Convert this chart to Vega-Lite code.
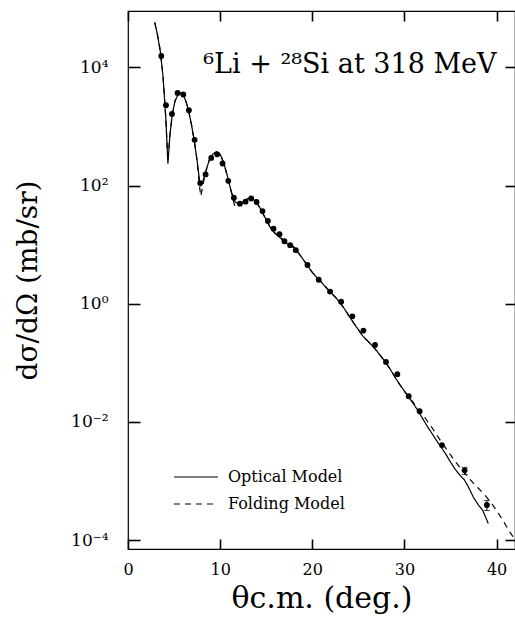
{
  "$schema": "https://vega.github.io/schema/vega-lite/v6.json",
  "width": 387,
  "height": 538,
  "autosize": {"type": "none"},
  "padding": {"left": 128, "top": 11, "right": 0, "bottom": 68},
  "background": "white",
  "config": {
    "view": {"stroke": "black", "strokeWidth": 1.2},
    "font": "DejaVu Serif",
    "axis": {
      "domain": false,
      "labelFlush": false,
      "labelColor": "black",
      "labelFont": "DejaVu Serif",
      "labelFontSize": 16,
      "titleFont": "DejaVu Serif",
      "titleFontWeight": "normal",
      "titleColor": "black"
    }
  },
  "datasets": {
    "points": [
      {"theta": 3.61, "sigma": 15600}, {"theta": 4.12, "sigma": 2290}, {"theta": 4.77, "sigma": 1630},
      {"theta": 5.38, "sigma": 3690}, {"theta": 6.0, "sigma": 3470}, {"theta": 6.61, "sigma": 1875},
      {"theta": 7.23, "sigma": 593}, {"theta": 7.84, "sigma": 110}, {"theta": 8.42, "sigma": 154},
      {"theta": 9.03, "sigma": 293}, {"theta": 9.68, "sigma": 337}, {"theta": 10.26, "sigma": 236},
      {"theta": 10.88, "sigma": 120}, {"theta": 11.49, "sigma": 62.1}, {"theta": 12.14, "sigma": 49.3},
      {"theta": 12.76, "sigma": 53.3}, {"theta": 13.37, "sigma": 60.3}, {"theta": 13.95, "sigma": 52.5},
      {"theta": 14.6, "sigma": 36.9}, {"theta": 15.18, "sigma": 25.1}, {"theta": 15.79, "sigma": 18.6},
      {"theta": 16.44, "sigma": 15.0}, {"theta": 16.98, "sigma": 11.4}, {"theta": 17.6, "sigma": 9.77},
      {"theta": 18.21, "sigma": 8.04}, {"theta": 19.48, "sigma": 4.52}, {"theta": 20.7, "sigma": 2.54},
      {"theta": 21.93, "sigma": 1.6}, {"theta": 23.13, "sigma": 1.08}, {"theta": 24.35, "sigma": 0.61},
      {"theta": 25.55, "sigma": 0.351}, {"theta": 26.81, "sigma": 0.2}, {"theta": 28.0, "sigma": 0.1035},
      {"theta": 29.23, "sigma": 0.0641}, {"theta": 30.46, "sigma": 0.0271}, {"theta": 31.65, "sigma": 0.01514},
      {"theta": 34.07, "sigma": 0.00405}, {"theta": 36.53, "sigma": 0.00151}, {"theta": 38.95, "sigma": 0.000392}
    ],
    "errors": [
      {"theta": 36.53, "lo": 0.00129, "hi": 0.0017},
      {"theta": 38.95, "lo": 0.000316, "hi": 0.000468}
    ],
    "curves": [
      {"model": "Optical Model", "theta": 2.9, "sigma": 57540},
      {"model": "Optical Model", "theta": 3.2, "sigma": 35480},
      {"model": "Optical Model", "theta": 3.5, "sigma": 19050},
      {"model": "Optical Model", "theta": 3.8, "sigma": 7079},
      {"model": "Optical Model", "theta": 4.1, "sigma": 1413},
      {"model": "Optical Model", "theta": 4.33, "sigma": 234.4},
      {"model": "Optical Model", "theta": 4.55, "sigma": 707.9},
      {"model": "Optical Model", "theta": 4.8, "sigma": 1585},
      {"model": "Optical Model", "theta": 5.1, "sigma": 2692},
      {"model": "Optical Model", "theta": 5.4, "sigma": 3388},
      {"model": "Optical Model", "theta": 5.7, "sigma": 3631},
      {"model": "Optical Model", "theta": 6.0, "sigma": 3388},
      {"model": "Optical Model", "theta": 6.3, "sigma": 2630},
      {"model": "Optical Model", "theta": 6.6, "sigma": 1778},
      {"model": "Optical Model", "theta": 6.9, "sigma": 1047},
      {"model": "Optical Model", "theta": 7.2, "sigma": 562.3},
      {"model": "Optical Model", "theta": 7.5, "sigma": 263},
      {"model": "Optical Model", "theta": 7.75, "sigma": 125.9},
      {"model": "Optical Model", "theta": 7.9, "sigma": 100},
      {"model": "Optical Model", "theta": 8.1, "sigma": 112.2},
      {"model": "Optical Model", "theta": 8.4, "sigma": 166},
      {"model": "Optical Model", "theta": 8.8, "sigma": 263},
      {"model": "Optical Model", "theta": 9.2, "sigma": 338.8},
      {"model": "Optical Model", "theta": 9.6, "sigma": 371.5},
      {"model": "Optical Model", "theta": 10.0, "sigma": 338.8},
      {"model": "Optical Model", "theta": 10.4, "sigma": 239.9},
      {"model": "Optical Model", "theta": 10.8, "sigma": 141.3},
      {"model": "Optical Model", "theta": 11.2, "sigma": 79.43},
      {"model": "Optical Model", "theta": 11.6, "sigma": 53.7},
      {"model": "Optical Model", "theta": 12.0, "sigma": 47.86},
      {"model": "Optical Model", "theta": 12.4, "sigma": 51.29},
      {"model": "Optical Model", "theta": 12.9, "sigma": 58.88},
      {"model": "Optical Model", "theta": 13.4, "sigma": 61.66},
      {"model": "Optical Model", "theta": 13.9, "sigma": 53.7},
      {"model": "Optical Model", "theta": 14.4, "sigma": 39.81},
      {"model": "Optical Model", "theta": 14.9, "sigma": 28.18},
      {"model": "Optical Model", "theta": 15.4, "sigma": 19.95},
      {"model": "Optical Model", "theta": 15.9, "sigma": 15.85},
      {"model": "Optical Model", "theta": 16.4, "sigma": 13.49},
      {"model": "Optical Model", "theta": 16.9, "sigma": 11.48},
      {"model": "Optical Model", "theta": 17.5, "sigma": 9.772},
      {"model": "Optical Model", "theta": 18.0, "sigma": 8.913},
      {"model": "Optical Model", "theta": 18.5, "sigma": 7.244},
      {"model": "Optical Model", "theta": 19.0, "sigma": 5.623},
      {"model": "Optical Model", "theta": 19.5, "sigma": 4.365},
      {"model": "Optical Model", "theta": 20.0, "sigma": 3.388},
      {"model": "Optical Model", "theta": 20.5, "sigma": 2.754},
      {"model": "Optical Model", "theta": 21.0, "sigma": 2.291},
      {"model": "Optical Model", "theta": 21.5, "sigma": 1.862},
      {"model": "Optical Model", "theta": 22.0, "sigma": 1.549},
      {"model": "Optical Model", "theta": 22.5, "sigma": 1.288},
      {"model": "Optical Model", "theta": 23.0, "sigma": 1.047},
      {"model": "Optical Model", "theta": 23.5, "sigma": 0.8128},
      {"model": "Optical Model", "theta": 24.0, "sigma": 0.6166},
      {"model": "Optical Model", "theta": 24.5, "sigma": 0.4677},
      {"model": "Optical Model", "theta": 25.0, "sigma": 0.3631},
      {"model": "Optical Model", "theta": 25.5, "sigma": 0.2818},
      {"model": "Optical Model", "theta": 26.0, "sigma": 0.2344},
      {"model": "Optical Model", "theta": 26.5, "sigma": 0.195},
      {"model": "Optical Model", "theta": 27.0, "sigma": 0.1585},
      {"model": "Optical Model", "theta": 27.5, "sigma": 0.1259},
      {"model": "Optical Model", "theta": 28.0, "sigma": 0.1},
      {"model": "Optical Model", "theta": 28.5, "sigma": 0.07586},
      {"model": "Optical Model", "theta": 29.0, "sigma": 0.05623},
      {"model": "Optical Model", "theta": 29.5, "sigma": 0.04266},
      {"model": "Optical Model", "theta": 30.0, "sigma": 0.03311},
      {"model": "Optical Model", "theta": 30.5, "sigma": 0.0257},
      {"model": "Optical Model", "theta": 31.0, "sigma": 0.01995},
      {"model": "Optical Model", "theta": 31.5, "sigma": 0.01514},
      {"model": "Optical Model", "theta": 32.0, "sigma": 0.01122},
      {"model": "Optical Model", "theta": 32.5, "sigma": 0.008318},
      {"model": "Optical Model", "theta": 33.0, "sigma": 0.00631},
      {"model": "Optical Model", "theta": 33.5, "sigma": 0.004786},
      {"model": "Optical Model", "theta": 34.0, "sigma": 0.003715},
      {"model": "Optical Model", "theta": 34.5, "sigma": 0.002818},
      {"model": "Optical Model", "theta": 35.0, "sigma": 0.002089},
      {"model": "Optical Model", "theta": 35.5, "sigma": 0.001585},
      {"model": "Optical Model", "theta": 36.0, "sigma": 0.001259},
      {"model": "Optical Model", "theta": 36.5, "sigma": 0.001047},
      {"model": "Optical Model", "theta": 37.0, "sigma": 0.0007586},
      {"model": "Optical Model", "theta": 37.5, "sigma": 0.0005248},
      {"model": "Optical Model", "theta": 38.0, "sigma": 0.0003981},
      {"model": "Optical Model", "theta": 38.5, "sigma": 0.0003162},
      {"model": "Optical Model", "theta": 39.1, "sigma": 0.0001905},
      {"model": "Folding Model", "theta": 2.9, "sigma": 57540},
      {"model": "Folding Model", "theta": 3.2, "sigma": 35480},
      {"model": "Folding Model", "theta": 3.5, "sigma": 19050},
      {"model": "Folding Model", "theta": 3.8, "sigma": 7079},
      {"model": "Folding Model", "theta": 4.1, "sigma": 1413},
      {"model": "Folding Model", "theta": 4.33, "sigma": 251},
      {"model": "Folding Model", "theta": 4.55, "sigma": 707.9},
      {"model": "Folding Model", "theta": 4.8, "sigma": 1585},
      {"model": "Folding Model", "theta": 5.1, "sigma": 2692},
      {"model": "Folding Model", "theta": 5.4, "sigma": 3388},
      {"model": "Folding Model", "theta": 5.7, "sigma": 3631},
      {"model": "Folding Model", "theta": 6.0, "sigma": 3388},
      {"model": "Folding Model", "theta": 6.3, "sigma": 2630},
      {"model": "Folding Model", "theta": 6.6, "sigma": 1778},
      {"model": "Folding Model", "theta": 6.9, "sigma": 1047},
      {"model": "Folding Model", "theta": 7.2, "sigma": 562.3},
      {"model": "Folding Model", "theta": 7.5, "sigma": 263},
      {"model": "Folding Model", "theta": 7.75, "sigma": 100},
      {"model": "Folding Model", "theta": 7.9, "sigma": 66.07},
      {"model": "Folding Model", "theta": 8.1, "sigma": 95.5},
      {"model": "Folding Model", "theta": 8.4, "sigma": 166},
      {"model": "Folding Model", "theta": 8.8, "sigma": 263},
      {"model": "Folding Model", "theta": 9.2, "sigma": 338.8},
      {"model": "Folding Model", "theta": 9.6, "sigma": 371.5},
      {"model": "Folding Model", "theta": 10.0, "sigma": 338.8},
      {"model": "Folding Model", "theta": 10.4, "sigma": 239.9},
      {"model": "Folding Model", "theta": 10.8, "sigma": 141.3},
      {"model": "Folding Model", "theta": 11.2, "sigma": 79.43},
      {"model": "Folding Model", "theta": 11.6, "sigma": 43.65},
      {"model": "Folding Model", "theta": 12.0, "sigma": 44.67},
      {"model": "Folding Model", "theta": 12.4, "sigma": 51.29},
      {"model": "Folding Model", "theta": 12.9, "sigma": 58.88},
      {"model": "Folding Model", "theta": 13.4, "sigma": 61.66},
      {"model": "Folding Model", "theta": 13.9, "sigma": 53.7},
      {"model": "Folding Model", "theta": 14.4, "sigma": 39.81},
      {"model": "Folding Model", "theta": 14.9, "sigma": 28.18},
      {"model": "Folding Model", "theta": 15.4, "sigma": 19.95},
      {"model": "Folding Model", "theta": 15.9, "sigma": 15.85},
      {"model": "Folding Model", "theta": 16.4, "sigma": 13.8},
      {"model": "Folding Model", "theta": 16.9, "sigma": 12.0},
      {"model": "Folding Model", "theta": 17.5, "sigma": 10.72},
      {"model": "Folding Model", "theta": 18.0, "sigma": 9.12},
      {"model": "Folding Model", "theta": 18.5, "sigma": 7.244},
      {"model": "Folding Model", "theta": 19.0, "sigma": 5.623},
      {"model": "Folding Model", "theta": 19.5, "sigma": 4.365},
      {"model": "Folding Model", "theta": 20.0, "sigma": 3.388},
      {"model": "Folding Model", "theta": 20.5, "sigma": 2.754},
      {"model": "Folding Model", "theta": 21.0, "sigma": 2.34},
      {"model": "Folding Model", "theta": 21.5, "sigma": 1.9},
      {"model": "Folding Model", "theta": 22.0, "sigma": 1.549},
      {"model": "Folding Model", "theta": 22.5, "sigma": 1.288},
      {"model": "Folding Model", "theta": 23.0, "sigma": 1.047},
      {"model": "Folding Model", "theta": 23.5, "sigma": 0.8128},
      {"model": "Folding Model", "theta": 24.0, "sigma": 0.6166},
      {"model": "Folding Model", "theta": 24.5, "sigma": 0.4677},
      {"model": "Folding Model", "theta": 25.0, "sigma": 0.3631},
      {"model": "Folding Model", "theta": 25.5, "sigma": 0.2818},
      {"model": "Folding Model", "theta": 26.0, "sigma": 0.2344},
      {"model": "Folding Model", "theta": 26.5, "sigma": 0.195},
      {"model": "Folding Model", "theta": 27.0, "sigma": 0.1585},
      {"model": "Folding Model", "theta": 27.5, "sigma": 0.1259},
      {"model": "Folding Model", "theta": 28.0, "sigma": 0.1},
      {"model": "Folding Model", "theta": 28.5, "sigma": 0.07586},
      {"model": "Folding Model", "theta": 29.0, "sigma": 0.05623},
      {"model": "Folding Model", "theta": 29.5, "sigma": 0.04266},
      {"model": "Folding Model", "theta": 30.0, "sigma": 0.03311},
      {"model": "Folding Model", "theta": 30.5, "sigma": 0.0263},
      {"model": "Folding Model", "theta": 31.0, "sigma": 0.02089},
      {"model": "Folding Model", "theta": 31.5, "sigma": 0.0166},
      {"model": "Folding Model", "theta": 32.0, "sigma": 0.01318},
      {"model": "Folding Model", "theta": 32.5, "sigma": 0.01023},
      {"model": "Folding Model", "theta": 33.0, "sigma": 0.007943},
      {"model": "Folding Model", "theta": 33.5, "sigma": 0.006026},
      {"model": "Folding Model", "theta": 34.0, "sigma": 0.004571},
      {"model": "Folding Model", "theta": 34.5, "sigma": 0.003548},
      {"model": "Folding Model", "theta": 35.0, "sigma": 0.002754},
      {"model": "Folding Model", "theta": 35.5, "sigma": 0.002138},
      {"model": "Folding Model", "theta": 36.0, "sigma": 0.001698},
      {"model": "Folding Model", "theta": 36.5, "sigma": 0.00138},
      {"model": "Folding Model", "theta": 37.0, "sigma": 0.001122},
      {"model": "Folding Model", "theta": 37.5, "sigma": 0.000912},
      {"model": "Folding Model", "theta": 38.0, "sigma": 0.0007586},
      {"model": "Folding Model", "theta": 38.5, "sigma": 0.000631},
      {"model": "Folding Model", "theta": 39.0, "sigma": 0.0005129},
      {"model": "Folding Model", "theta": 39.5, "sigma": 0.0004074},
      {"model": "Folding Model", "theta": 40.0, "sigma": 0.0003162},
      {"model": "Folding Model", "theta": 40.5, "sigma": 0.0002399},
      {"model": "Folding Model", "theta": 41.0, "sigma": 0.0001778},
      {"model": "Folding Model", "theta": 41.5, "sigma": 0.0001318},
      {"model": "Folding Model", "theta": 41.9, "sigma": 0.0001072}
    ]
  },
  "layer": [
    {
      "data": {"name": "curves"},
      "mark": {"type": "line", "color": "black", "strokeWidth": 1.2, "clip": true},
      "encoding": {
        "x": {
          "field": "theta", "type": "quantitative",
          "scale": {"domain": [0, 42], "nice": false, "zero": false},
          "axis": {
            "orient": "bottom",
            "values": [0, 10, 20, 30, 40],
            "grid": false,
            "ticks": true,
            "offset": -10,
            "tickSize": 10,
            "tickWidth": 1.6,
            "tickColor": "black",
            "zindex": 5,
            "labelPadding": 12,
            "title": "θc.m. (deg.)",
            "titleFontSize": 30,
            "titlePadding": 6
          }
        },
        "y": {
          "field": "sigma", "type": "quantitative",
          "scale": {"type": "log", "domain": [7.05e-5, 89800], "nice": false},
          "axis": {
            "orient": "left",
            "values": [0.0001, 0.01, 1, 100, 10000],
            "labelExpr": "datum.value > 5000 ? '10⁴' : datum.value > 50 ? '10²' : datum.value > 0.5 ? '10⁰' : datum.value > 0.005 ? '10⁻²' : '10⁻⁴'",
            "grid": false,
            "ticks": true,
            "offset": -12,
            "tickSize": 12,
            "tickWidth": 1.6,
            "tickColor": "black",
            "zindex": 5,
            "labelPadding": 20,
            "labelFontSize": 17,
            "title": "dσ/dΩ (mb/sr)",
            "titleFontSize": 28,
            "titlePadding": 28
          }
        },
        "strokeDash": {
          "field": "model", "type": "nominal",
          "scale": {"domain": ["Optical Model", "Folding Model"], "range": [[1, 0], [6, 5]]},
          "legend": {
            "orient": "bottom-left",
            "offset": 37,
            "title": null,
            "symbolType": "M0.13,0H6.43",
            "symbolSize": 196,
            "symbolStrokeWidth": 1.2,
            "symbolStrokeColor": "black",
            "labelFont": "DejaVu Serif",
            "labelFontSize": 16,
            "labelColor": "black",
            "rowPadding": 11,
            "labelOffset": 47
          }
        }
      }
    },
    {
      "data": {"name": "points"},
      "mark": {"type": "circle", "color": "black", "opacity": 1, "size": 34},
      "encoding": {
        "x": {
          "field": "theta", "type": "quantitative",
          "axis": {"orient": "top", "values": [0, 10, 20, 30, 40], "labels": false, "title": null, "grid": false, "ticks": true, "offset": -10, "tickSize": 10, "tickWidth": 1.6, "tickColor": "black", "zindex": 5}
        },
        "y": {
          "field": "sigma", "type": "quantitative",
          "axis": {"orient": "right", "values": [0.0001, 0.01, 1, 100, 10000], "labels": false, "title": null, "grid": false, "ticks": true, "offset": -10, "tickSize": 10, "tickWidth": 1.6, "tickColor": "black", "zindex": 5}
        }
      }
    },
    {
      "data": {"name": "errors"},
      "mark": {"type": "errorbar", "ticks": {"size": 6}, "color": "black"},
      "encoding": {
        "x": {"field": "theta", "type": "quantitative", "axis": null},
        "y": {"field": "lo", "type": "quantitative", "axis": null},
        "y2": {"field": "hi"}
      }
    },
    {
      "data": {"values": [{"label": "⁶Li + ²⁸Si at 318 MeV"}]},
      "mark": {"type": "text", "align": "right", "baseline": "alphabetic", "fontSize": 27, "font": "DejaVu Serif", "color": "black"},
      "encoding": {
        "x": {"datum": 40, "type": "quantitative", "axis": null},
        "y": {"datum": 8000, "type": "quantitative", "axis": null},
        "text": {"field": "label"}
      }
    }
  ],
  "resolve": {"axis": {"x": "independent", "y": "independent"}}
}
